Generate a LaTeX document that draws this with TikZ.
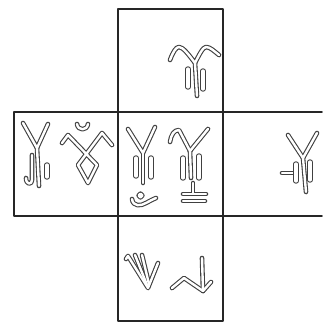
\documentclass[tikz,border=0pt]{standalone}
\tikzset{
 frame/.style={draw=black!85, line width=1.8pt, line cap=round, line join=round},
 gout/.style={draw=black!75, line width=4.6pt, line cap=round, line join=round},
 gin/.style={draw=white, line width=2.4pt, line cap=round, line join=round},
 bar/.style={draw=black!75, double=white, double distance=3.2pt, line width=1.1pt, line cap=round},
}
\newcommand\glyphstrokes[1]{%
% top glyph
\draw[#1] (170,60) .. controls (173,52) and (176,47) .. (179,47) .. controls (183,47) and (189,55) .. (195,63)
  .. controls (199,55) and (203,47) .. (206,47) .. controls (210,47) and (214,51) .. (219,55);
\draw[#1] (195,63) -- (197,96);
% left glyph 1
\draw[#1] (23,123) -- (37,148) -- (48,124);
\draw[#1] (37,148) -- (39,186);
\draw[#1] (32,155) -- (32,180) .. controls (32,185) and (26,185) .. (26,178);
% left glyph 2
\draw[#1] (77,124) .. controls (78,131) and (87,131) .. (88,124);
\draw[#1] (62,143) -- (68,135) -- (97,165) -- (88,183) -- (78,165) -- (102,133) -- (112,145);
% center glyph 3
\draw[#1] (128,129) -- (143,153) -- (155,127);
\draw[#1] (143,153) -- (143,183);
\draw[#1] (140.5,195.5) circle (1.9);
\draw[#1] (132,199) .. controls (133,207) and (141,206) .. (146,203) .. controls (150,201) and (153,199) .. (156,198);
% center glyph 4
\draw[#1] (170,142) .. controls (171,135) and (174,130) .. (179,130) -- (190,151);
\draw[#1] (190,151) -- (208,129);
\draw[#1] (190,151) -- (191,178);
\draw[#1] (193,183) -- (193,193);
\draw[#1] (183,194) -- (206,194);
\draw[#1] (183,201) -- (205,201);
% right glyph
\draw[#1] (288,135) -- (303,158) -- (317,133);
\draw[#1] (303,158) -- (306,192);
\draw[#1] (282,173) -- (294,173);
% bottom glyph 1
\draw[#1] (126,259) -- (128,256) -- (148,288) -- (158,263);
\draw[#1] (135,255) -- (147,285);
\draw[#1] (142,255) -- (149,284);
% bottom glyph 2
\draw[#1] (172,288) -- (184,278) -- (203,291) -- (211,282);
\draw[#1] (202,258) -- (203,291);
}
\begin{document}
\begin{tikzpicture}[x=1pt,y=-1pt]
\useasboundingbox[fill=white] (0,0) rectangle (322,323);
% frame
\coordinate (tl) at (118,9);
\coordinate (tr) at (223,9);
\coordinate (bl) at (118,321);
\coordinate (br) at (223,321);
\draw[frame] (tl) -- (tr) -- (br) -- (bl) -- cycle;
\draw[frame] (322,112) -- (14,112) -- (14,216) -- (322,216);
% glyph strokes, outline pass then interior pass
\glyphstrokes{gout}
\glyphstrokes{gin}
% bars
\draw[bar] (188,69) -- (188,87);
\draw[bar] (203,71) -- (203,89);
\draw[bar] (47,165) -- (47,177);
\draw[bar] (136,158) -- (136,176);
\draw[bar] (151,158) -- (151,177);
\draw[bar] (183,158) -- (183,178);
\draw[bar] (199,156) -- (199,178);
\draw[bar] (296,164) -- (296,181);
\draw[bar] (310,162) -- (310,180);
\end{tikzpicture}
\end{document}
